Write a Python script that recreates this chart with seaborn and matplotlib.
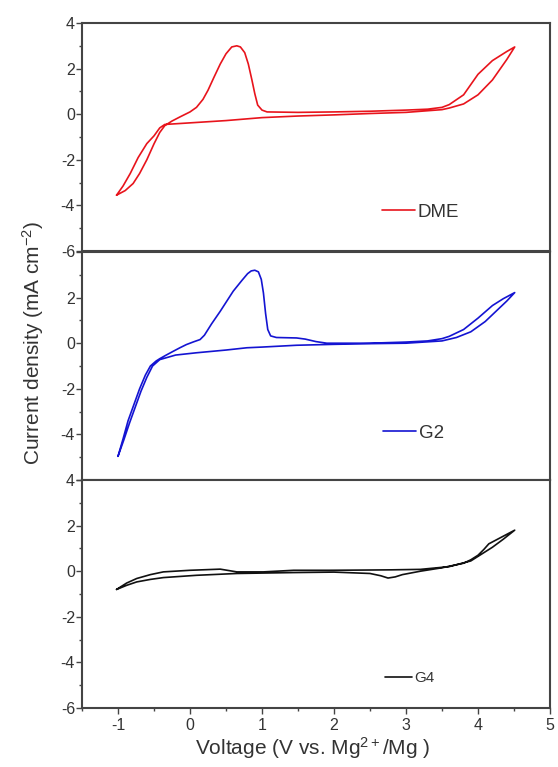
import numpy as np
import pandas as pd
import matplotlib
matplotlib.use("Agg")
import matplotlib.pyplot as plt
import seaborn as sns
from matplotlib.ticker import MultipleLocator

# ---------------- data ----------------
dme_v = [-1.02, -0.90, -0.79, -0.70, -0.60, -0.50, -0.42, -0.35, -0.25, -0.14, 0.0, 0.09,
         0.18, 0.25, 0.33, 0.42, 0.50, 0.58, 0.65, 0.70, 0.76, 0.81, 0.86, 0.90, 0.94,
         1.0, 1.07, 1.5, 2.0, 2.5, 3.0, 3.3, 3.5, 3.6, 3.8, 4.0, 4.2, 4.4, 4.51,
         4.4, 4.2, 4.0, 3.8, 3.6, 3.5, 3.0, 2.5, 2.0, 1.5, 1.0, 0.5, 0.0, -0.35,
         -0.42, -0.50, -0.60, -0.72, -0.83, -0.93, -1.02]
dme_i = [-3.55, -3.35, -3.04, -2.6, -2.0, -1.3, -0.8, -0.5, -0.3, -0.12, 0.1, 0.3,
         0.65, 1.05, 1.6, 2.2, 2.65, 2.95, 3.0, 2.95, 2.7, 2.2, 1.5, 0.9, 0.4,
         0.18, 0.1, 0.08, 0.1, 0.13, 0.18, 0.22, 0.3, 0.42, 0.85, 1.75, 2.35, 2.75, 2.95,
         2.4, 1.5, 0.85, 0.45, 0.27, 0.2, 0.08, 0.03, -0.03, -0.08, -0.15, -0.28, -0.38, -0.45,
         -0.6, -0.95, -1.29, -1.9, -2.6, -3.15, -3.55]

g2_v = [-1.00, -0.93, -0.86, -0.78, -0.70, -0.62, -0.55, -0.47, -0.42, -0.33, -0.23,
        -0.14, -0.05, 0.05, 0.14, 0.20, 0.30, 0.42, 0.60, 0.72, 0.80, 0.85, 0.90, 0.95,
        0.99, 1.02, 1.05, 1.08, 1.12, 1.20, 1.48, 1.60, 1.75, 1.90, 2.5, 3.0, 3.3, 3.5,
        3.6, 3.8, 4.0, 4.2, 4.35, 4.51,
        4.40, 4.25, 4.10, 3.90, 3.70, 3.50, 3.0, 2.5, 2.0, 1.48, 1.0, 0.79, 0.5, 0.09,
        -0.2, -0.42, -0.52, -0.60, -0.68, -0.76, -0.84, -0.92, -1.00]
g2_i = [-4.96, -4.2, -3.4, -2.7, -2.0, -1.4, -1.0, -0.78, -0.68, -0.52, -0.35,
        -0.2, -0.06, 0.06, 0.16, 0.35, 0.85, 1.4, 2.28, 2.75, 3.05, 3.17, 3.2, 3.13,
        2.8, 2.2, 1.3, 0.6, 0.32, 0.25, 0.23, 0.18, 0.07, 0.0, 0.0, 0.05, 0.1, 0.2,
        0.3, 0.6, 1.1, 1.65, 1.95, 2.22,
        1.85, 1.4, 0.95, 0.5, 0.25, 0.1, 0.0, -0.02, -0.05, -0.09, -0.17, -0.2, -0.3, -0.42,
        -0.52, -0.72, -1.0, -1.5, -2.1, -2.8, -3.5, -4.25, -4.96]

g4_v = [-1.02, -0.88, -0.74, -0.55, -0.37, 0.09, 0.65, 1.44, 2.0, 2.5, 2.65, 2.75, 2.85,
        2.95, 3.2, 3.5, 3.8, 3.9, 4.0, 4.08, 4.15, 4.3, 4.51,
        4.35, 4.2, 4.05, 3.9, 3.6, 3.2, 2.8, 2.4, 1.94, 1.44, 1.02, 0.65, 0.42,
        0.0, -0.37, -0.55, -0.74, -0.88, -1.02]
g4_i = [-0.8, -0.62, -0.47, -0.36, -0.28, -0.18, -0.1, -0.06, -0.04, -0.1, -0.2, -0.3, -0.25,
        -0.15, 0.0, 0.15, 0.35, 0.5, 0.7, 0.95, 1.2, 1.45, 1.8,
        1.4, 1.05, 0.75, 0.45, 0.2, 0.08, 0.06, 0.05, 0.04, 0.04, -0.03, -0.03, 0.09,
        0.04, -0.03, -0.15, -0.32, -0.52, -0.8]

labels = ["DME", "G2", "G4"]
colors = ["#e8141c", "#1414d2", "#111111"]
x_ticks = [-1, 0, 1, 2, 3, 4, 5]
y_ticks = [-6, -4, -2, 0, 2, 4]

# ---------------- style ----------------
sns.set_theme(style="white")
plt.rcParams["font.family"] = ["Liberation Sans", "DejaVu Sans"]
plt.rcParams["mathtext.fontset"] = "custom"
plt.rcParams["mathtext.rm"] = "Liberation Sans"
plt.rcParams["mathtext.it"] = "Liberation Sans:italic"
plt.rcParams["axes.unicode_minus"] = False

fig = plt.figure(figsize=(5.58, 7.67), dpi=100)
left, width = 82 / 558, 468 / 558
ph = 228 / 767
bottoms = [1 - 251 / 767, 1 - 480 / 767, 1 - 708 / 767]
axes = [fig.add_axes([left, b, width, ph]) for b in bottoms]

data = [(dme_v, dme_i), (g2_v, g2_i), (g4_v, g4_i)]
leg_pos = [(0.641, 0.171), (0.643, 0.206), (0.647, 0.132)]
leg_fs = [13.5, 13.5, 11]

for k, ax in enumerate(axes):
    v, i = data[k]
    df = pd.DataFrame({"v": v, "i": i})
    sns.lineplot(data=df, x="v", y="i", sort=False, estimator=None, ax=ax,
                 color=colors[k], lw=1.2, label=labels[k])
    ax.set_xlim(-1.5, 5)
    ax.set_ylim(-6, 4)
    ax.set_xlabel("")
    ax.set_ylabel("")
    ax.set_yticks(y_ticks)
    ax.yaxis.set_minor_locator(MultipleLocator(1))
    ax.set_xticks(x_ticks)
    ax.xaxis.set_minor_locator(MultipleLocator(0.5))
    for s in ax.spines.values():
        s.set_color("#444444")
        s.set_linewidth(1.5)
    ax.tick_params(axis="y", which="major", direction="out", length=4, width=1,
                   color="#444444", labelsize=11.5, labelcolor="#333333", left=True, pad=1)
    ax.tick_params(axis="y", which="minor", direction="out", length=2.5, width=1,
                   color="#444444", left=True)
    if k < 2:
        ax.tick_params(axis="x", which="both", bottom=False, labelbottom=False)
    else:
        ax.tick_params(axis="x", which="major", direction="out", length=4, width=1,
                       color="#444444", labelsize=11.5, labelcolor="#333333", bottom=True)
        ax.tick_params(axis="x", which="minor", direction="out", length=2.5, width=1,
                       color="#444444", bottom=True)
    if k == 1:
        ax.set_yticklabels(["", "-4", "-2", "0", "2", ""])
    leg = ax.legend(loc="center left", bbox_to_anchor=leg_pos[k], frameon=False,
                    borderpad=0, borderaxespad=0, handlelength=1.77, handletextpad=0.15,
                    fontsize=leg_fs[k])
    for t in leg.get_texts():
        t.set_color("#333333")

fig.text(0.06, 1 - 343 / 767, "Current density (mA cm$^{-2}$)", rotation=90,
         ha="center", va="center", fontsize=15, color="#333333")
fig.text(313 / 558, 1 - 748 / 767, "Voltage (V vs. Mg$^{2+}$/Mg )",
         ha="center", va="center", fontsize=15, color="#333333")

fig.savefig("out.png", dpi=100)
